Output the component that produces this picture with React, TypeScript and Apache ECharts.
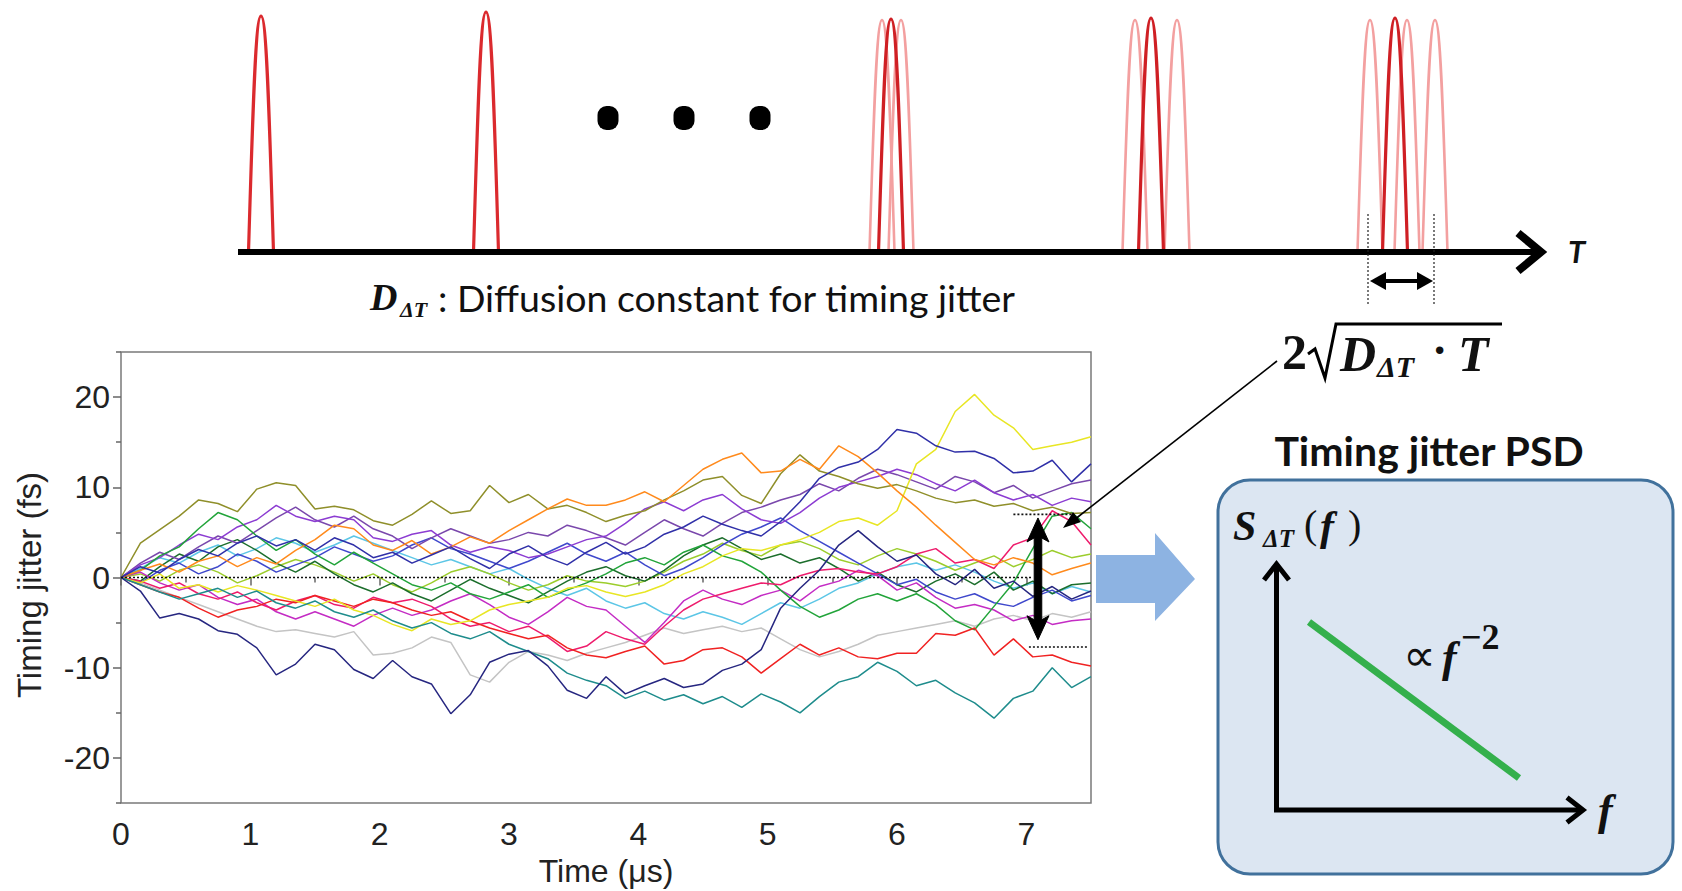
import React, { useEffect, useRef } from "react";
import * as echarts from "echarts";

// ---------- data ----------
const TIME_US = [0, 0.15, 0.3, 0.45, 0.6, 0.75, 0.9, 1.05, 1.2, 1.35, 1.5, 1.65, 1.8, 1.95, 2.1, 2.25, 2.4, 2.55, 2.7, 2.85, 3.0, 3.15, 3.3, 3.45, 3.6, 3.75, 3.9, 4.05, 4.2, 4.35, 4.5, 4.65, 4.8, 4.95, 5.1, 5.25, 5.4, 5.55, 5.7, 5.85, 6.0, 6.15, 6.3, 6.45, 6.6, 6.75, 6.9, 7.05, 7.2, 7.35, 7.5];

const X_MAJOR_TICKS = [0, 1, 2, 3, 4, 5, 6, 7];
const X_MINOR_TICKS = [0.5, 1.5, 2.5, 3.5, 4.5, 5.5, 6.5];
const Y_MAJOR_TICKS = [-20, -10, 0, 10, 20];
const Y_MINOR_TICKS = [-25, -15, -5, 5, 15, 25];

const OLIVE = [0, 3.8, 5.3, 6.8, 8.6, 8.2, 7.3, 9.8, 10.5, 10.2, 7.6, 7.9, 7.5, 6.3, 5.8, 7.0, 8.5, 7.1, 7.4, 10.2, 8.3, 9.2, 7.6, 8.0, 7.2, 6.2, 6.9, 7.4, 8.6, 9.6, 10.8, 11.2, 9.1, 8.2, 11.5, 13.6, 11.8, 11.2, 10.4, 9.9, 10.3, 9.6, 8.8, 8.3, 8.6, 7.9, 8.2, 7.4, 7.8, 7.1, 7.2];
const ORANGE = [0, 0.8, 1.5, 0.6, 1.8, 2.4, 1.2, 2.2, 1.5, 3.0, 4.2, 5.8, 5.4, 3.6, 3.0, 4.1, 2.6, 3.4, 4.5, 3.8, 5.2, 6.4, 7.6, 8.7, 8.0, 8.0, 8.6, 9.5, 8.4, 10.2, 12.0, 13.1, 13.8, 11.6, 11.8, 13.1, 12.0, 14.6, 13.4, 11.6, 9.6, 7.8, 5.8, 3.9, 2.0, 1.4, 2.2, 1.6, 0.3, 1.0, 1.6];
const NAVY = [0, -1.5, -4.5, -4.0, -4.6, -5.9, -6.3, -7.8, -10.8, -9.6, -7.4, -8.0, -10.2, -11.2, -9.2, -11.0, -11.8, -15.1, -13.0, -9.4, -8.5, -8.1, -9.8, -12.5, -13.4, -11.0, -12.9, -12.0, -11.2, -12.2, -11.8, -10.3, -9.6, -8.0, -3.4, -1.2, 0.8, 3.6, 5.2, 3.4, 1.8, 2.5, 0.4, -0.8, 0.9, -1.2, -0.4, -2.1, -1.0, -2.4, -1.5];
const DARK_BLUE = [0, 1.2, 0.5, 2.0, 3.1, 2.4, 3.8, 4.6, 3.5, 4.2, 3.0, 4.4, 3.6, 2.2, 2.8, 1.6, 2.5, 3.4, 2.1, 1.0, 2.6, 3.5, 2.2, 1.4, 2.8, 3.9, 2.6, 3.4, 4.8, 5.6, 6.8, 5.9, 5.2, 4.6, 6.2, 8.4, 11.0, 12.2, 12.8, 14.2, 16.4, 16.0, 14.6, 13.9, 14.0, 13.2, 11.6, 11.8, 13.0, 10.6, 12.6];
const YELLOW = [0, -0.6, 0.4, -1.2, -0.8, -1.6, -0.9, -1.4, -2.0, -2.6, -3.2, -2.4, -3.6, -4.2, -5.2, -5.9, -4.6, -5.2, -4.8, -3.6, -3.0, -2.6, -2.2, -1.2, -0.9, -1.6, -2.1, -1.6, -0.8, 0.4, 1.2, 2.4, 3.2, 3.0, 3.6, 4.2, 5.0, 6.2, 6.6, 5.8, 7.4, 12.6, 14.2, 18.4, 20.3, 18.0, 16.6, 14.2, 14.6, 15.0, 15.6];
const TEAL = [0, -0.8, -1.6, -2.4, -1.8, -1.2, -2.2, -1.5, -2.8, -3.4, -2.6, -3.8, -4.4, -3.6, -4.8, -5.6, -5.0, -6.2, -6.8, -6.0, -7.4, -8.2, -9.0, -10.6, -11.4, -12.0, -13.4, -12.6, -13.6, -13.0, -14.0, -13.2, -14.4, -12.9, -13.8, -15.0, -13.2, -11.6, -11.0, -9.4, -10.4, -12.0, -11.4, -12.8, -13.9, -15.6, -13.4, -12.6, -10.0, -12.2, -11.0];
const RED = [0, -0.8, -1.6, -2.2, -3.4, -4.4, -3.6, -3.2, -2.4, -2.8, -2.0, -2.6, -3.2, -2.4, -2.8, -3.6, -4.2, -3.8, -4.8, -5.6, -6.2, -6.8, -6.4, -7.8, -8.6, -8.9, -8.2, -7.6, -9.6, -9.2, -8.0, -7.8, -8.8, -10.6, -9.0, -7.4, -8.6, -7.8, -8.8, -9.0, -8.4, -8.4, -6.2, -6.4, -5.6, -8.6, -6.8, -8.8, -8.6, -9.4, -9.8];
const GRAY = [0, -0.6, -1.4, -2.2, -3.0, -3.8, -4.6, -5.4, -6.0, -5.8, -6.2, -6.6, -6.0, -8.6, -8.4, -7.8, -6.6, -7.2, -10.8, -11.6, -9.4, -8.2, -8.6, -9.2, -8.4, -7.8, -7.2, -6.4, -5.6, -6.2, -5.8, -5.4, -6.0, -5.6, -6.8, -8.0, -8.8, -8.2, -7.4, -6.4, -6.0, -5.6, -5.2, -4.8, -5.4, -4.6, -4.2, -4.8, -4.0, -4.4, -3.8];
const CRIMSON = [0, -0.4, -1.2, -0.6, -1.8, -2.4, -1.6, -2.8, -3.6, -2.6, -2.0, -3.0, -3.4, -2.2, -2.8, -2.4, -3.2, -4.6, -5.4, -5.0, -6.0, -5.4, -6.6, -8.2, -7.6, -6.0, -6.8, -7.4, -5.4, -3.6, -2.4, -1.8, -1.2, -0.6, -0.8, 0.2, 0.8, 1.0, 0.6, 0.4, 1.2, 2.6, 3.2, 1.6, 2.0, 1.0, 3.6, 4.4, 7.4, 6.2, 3.6];
const MAGENTA = [0, 0.6, -0.6, -1.4, -0.8, -2.2, -3.0, -2.4, -3.8, -4.6, -3.8, -4.6, -5.4, -4.2, -3.4, -4.2, -3.6, -2.6, -1.8, -3.0, -4.4, -5.2, -3.8, -2.2, -3.2, -3.6, -5.4, -7.2, -5.0, -2.6, -1.4, -2.4, -3.0, -2.0, -1.4, -2.6, -1.0, -0.4, 0.8, 0.2, -1.4, -0.6, -2.2, -3.4, -3.0, -3.6, -4.8, -4.2, -5.2, -4.8, -4.6];
const VIOLET = [0, 1.4, 2.2, 3.6, 4.8, 4.2, 5.6, 6.4, 8.0, 6.8, 6.2, 6.8, 6.4, 4.4, 4.0, 4.8, 5.2, 3.6, 2.8, 3.4, 3.0, 2.2, 2.6, 3.4, 4.2, 4.6, 6.0, 7.6, 8.4, 7.4, 8.6, 9.2, 7.6, 6.4, 6.0, 7.2, 8.8, 10.0, 10.6, 11.2, 12.0, 11.4, 10.4, 9.6, 10.8, 9.4, 8.6, 9.2, 8.0, 8.8, 8.4];
const GREEN = [0, 0.8, 2.4, 3.4, 5.4, 7.2, 6.4, 4.6, 3.0, 4.2, 2.6, 1.4, 2.8, 1.6, 0.4, -0.8, -1.4, -0.6, -1.8, -2.4, -1.6, -0.8, -2.2, -1.4, -0.6, 0.4, 1.6, 2.2, 1.4, 2.8, 3.6, 2.4, 1.8, 0.6, -1.4, -3.2, -4.4, -3.6, -2.4, -1.8, -2.6, -1.8, -3.0, -4.8, -5.8, -3.2, -0.6, 3.2, 6.8, 7.2, 5.4];
const DARK_GREEN = [0, -0.4, 1.2, 2.6, 1.8, 3.4, 4.2, 3.0, 1.6, 0.6, 1.8, 0.4, -0.8, -1.6, -0.6, -1.8, -2.6, -1.4, -0.2, -1.2, -2.0, -2.8, -1.6, -0.4, 0.6, 1.2, 0.2, -0.4, 0.8, 2.4, 3.6, 4.4, 3.2, 2.0, 2.6, 1.6, 2.2, 1.0, -0.4, 0.6, -0.8, -1.6, -0.4, 0.4, -0.8, 0.6, -1.4, -0.4, -1.8, -0.8, -0.6];
const CYAN = [0, 1.0, 2.2, 1.6, 2.8, 3.6, 2.4, 3.2, 4.4, 3.8, 2.8, 3.6, 4.6, 3.8, 3.0, 2.2, 1.4, 2.0, 1.2, 0.4, 1.0, -0.2, -1.2, -2.0, -1.2, -2.6, -3.4, -2.8, -4.0, -4.6, -3.8, -4.4, -5.2, -4.0, -2.8, -3.4, -2.4, -1.2, -0.6, 0.4, 1.2, 1.6, 0.8, 1.4, 0.6, -0.4, -1.2, -0.6, -1.8, -1.0, -1.6];
const LIME = [0, 0.4, -0.4, 0.8, 1.4, 0.6, -0.6, 0.2, 1.2, 2.0, 1.4, 0.6, -0.4, 0.4, -0.8, -1.6, -0.6, 0.6, 1.2, 0.4, -0.6, -1.4, -0.8, 0.2, -0.4, -0.6, -1.0, -0.4, 0.6, 1.8, 2.6, 3.8, 3.0, 2.4, 3.6, 4.0, 3.2, 2.0, 1.4, 2.4, 3.2, 2.6, 1.8, 0.8, 1.6, 2.4, 1.2, 2.0, 3.0, 2.2, 2.6];
const ROYAL_BLUE = [0, -0.6, 0.8, 1.6, 0.4, 1.2, 2.6, 1.8, 0.6, 1.4, 2.2, 3.4, 2.6, 1.8, 2.4, 3.6, 4.4, 3.2, 2.6, 1.8, 1.0, 1.8, 2.8, 3.8, 2.6, 1.8, 2.8, 1.4, 0.2, 1.0, 2.2, 3.6, 4.8, 5.6, 6.6, 5.2, 4.0, 2.8, 1.6, 0.4, -0.8, -0.2, -1.6, -2.4, -1.8, -2.8, -3.2, -2.2, -1.4, -2.6, -2.0];
const PLUM = [0, 1.6, 2.8, 2.0, 3.4, 4.6, 3.8, 5.2, 6.6, 7.8, 6.4, 5.6, 6.8, 5.4, 4.6, 3.2, 4.4, 5.4, 4.6, 3.8, 4.2, 5.0, 4.6, 5.8, 5.2, 4.4, 3.6, 5.0, 6.4, 5.4, 4.6, 6.0, 7.2, 7.8, 8.6, 9.2, 10.4, 9.6, 11.0, 12.0, 11.4, 10.6, 9.8, 11.2, 10.6, 9.4, 10.2, 8.8, 9.6, 10.4, 10.8];

// zero reference and spread markers (time µs, jitter fs)
const ZERO_LINE = [[0, 0], [7.05, 0]];
const SPREAD_TOP_LINE = [[6.9, 7.0], [7.35, 7.0]];
const SPREAD_BOTTOM_LINE = [[7.02, -7.7], [7.47, -7.7]];
const SPREAD_ARROW = { t: 7.09, top: 6.6, bottom: -6.9 };

const TRACES = [
  { name: "gray", color: "#c4c4c4", values: GRAY },
  { name: "cyan", color: "#5cc6e6", values: CYAN },
  { name: "lime", color: "#9ccd2c", values: LIME },
  { name: "darkGreen", color: "#1c6e2c", values: DARK_GREEN },
  { name: "royalBlue", color: "#3f48cc", values: ROYAL_BLUE },
  { name: "plum", color: "#7a48ac", values: PLUM },
  { name: "violet", color: "#8c3cd2", values: VIOLET },
  { name: "magenta", color: "#c42cc4", values: MAGENTA },
  { name: "green", color: "#22a43a", values: GREEN },
  { name: "crimson", color: "#ee1c6c", values: CRIMSON },
  { name: "red", color: "#f02222", values: RED },
  { name: "yellow", color: "#e8e624", values: YELLOW },
  { name: "olive", color: "#8f8f2a", values: OLIVE },
  { name: "orange", color: "#ff8a1c", values: ORANGE },
  { name: "teal", color: "#1e8c8c", values: TEAL },
  { name: "navy", color: "#262680", values: NAVY },
  { name: "darkBlue", color: "#3030a8", values: DARK_BLUE },
];

// ---------- pulse shape for the schematic ----------
const PulseShape = echarts.graphic.extendShape({
  shape: { cx: 0, base: 0, peak: 0, hw: 12 },
  buildPath(ctx: any, shape: any) {
    const { cx, base, peak, hw } = shape;
    const h = base - peak;
    ctx.moveTo(cx - hw, base);
    ctx.bezierCurveTo(cx - hw * 0.68, base - h * 0.55, cx - hw * 0.46, peak, cx, peak);
    ctx.bezierCurveTo(cx + hw * 0.46, peak, cx + hw * 0.68, base - h * 0.55, cx + hw, base);
  },
});
echarts.graphic.registerShape("pulse", PulseShape);

const SANS = '"Liberation Sans", Arial, sans-serif';
const SERIF = '"Liberation Serif", "DejaVu Serif", serif';
const CAL = 'Lato, "Open Sans", sans-serif';

function text(t: string, x: number, y: number, font: string, opts: any = {}) {
  const align = opts.align || "left";
  const va = opts.va || "middle";
  return {
    type: "text",
    x,
    y,
    z: 20,
    rotation: opts.rotation || 0,
    style: {
      text: t,
      font,
      fill: opts.fill || "#111",
      align,
      verticalAlign: va,
      textAlign: align,
      textVerticalAlign: va,
    },
  };
}

export default function App() {
  const ref = useRef<HTMLDivElement>(null);

  useEffect(() => {
    document.body.style.margin = "0";
    const chart = echarts.init(ref.current!, null, { renderer: "svg", width: 1682, height: 891 });

    const lineSeries: any[] = TRACES.map((tr) => ({
      name: tr.name,
      type: "line",
      xAxisIndex: 0,
      yAxisIndex: 0,
      showSymbol: false,
      symbol: "none",
      data: TIME_US.map((t, i) => [t, tr.values[i]]),
      lineStyle: { color: tr.color, width: 1.5 },
      itemStyle: { color: tr.color },
      z: 3,
    }));

    const dotted = (data: number[][]) => ({
      type: "line",
      showSymbol: false,
      symbol: "none",
      data,
      lineStyle: { color: "#111", width: 1.6, type: [2, 2] },
      z: 6,
    });

    const axisCommon = { type: "value", splitLine: { show: false }, axisLine: { show: false } };
    const tickStyle = { color: "#666", width: 1.5 };

    chart.setOption({
      animation: false,
      backgroundColor: "#ffffff",
      grid: {
        left: 121,
        top: 352,
        width: 970,
        height: 451,
        show: true,
        borderColor: "#7a7a7a",
        borderWidth: 1.5,
        backgroundColor: "transparent",
        containLabel: false,
      },
      xAxis: [
        {
          ...axisCommon,
          min: 0,
          max: 7.5,
          position: "bottom",
          offset: 0,
          axisTick: { show: true, customValues: X_MAJOR_TICKS, length: 8, lineStyle: tickStyle },
          axisLabel: { customValues: X_MAJOR_TICKS, fontSize: 32, fontFamily: SANS, color: "#222", margin: 15 },
        },
        {
          ...axisCommon,
          min: 0,
          max: 7.5,
          position: "bottom",
          offset: 0,
          axisTick: { show: true, customValues: X_MINOR_TICKS, length: 5, lineStyle: tickStyle },
          axisLabel: { show: false },
        },
      ],
      yAxis: [
        {
          ...axisCommon,
          min: -25,
          max: 25,
          position: "left",
          offset: 0,
          axisTick: { show: true, customValues: Y_MAJOR_TICKS, length: 8, lineStyle: tickStyle },
          axisLabel: { customValues: Y_MAJOR_TICKS, fontSize: 32, fontFamily: SANS, color: "#222", margin: 11 },
        },
        {
          ...axisCommon,
          min: -25,
          max: 25,
          position: "left",
          offset: 0,
          axisTick: { show: true, customValues: Y_MINOR_TICKS, length: 5, lineStyle: tickStyle },
          axisLabel: { show: false },
        },
      ],
      series: [
        ...lineSeries,
        dotted(ZERO_LINE),
        dotted(SPREAD_TOP_LINE),
        dotted(SPREAD_BOTTOM_LINE),
      ],
    });

    const toPx = (t: number, v: number) => chart.convertToPixel({ seriesIndex: 0 }, [t, v]) as number[];

    // double-headed spread arrow, anchored to data coordinates
    const aTop = toPx(SPREAD_ARROW.t, SPREAD_ARROW.top);
    const aBot = toPx(SPREAD_ARROW.t, SPREAD_ARROW.bottom);
    const ax = aTop[0];
    const yT = aTop[1];
    const yB = aBot[1];
    const hw = 11, sw = 3.8, hl = 24;
    const spreadArrow = {
      type: "polygon",
      z: 30,
      shape: {
        points: [
          [ax, yT], [ax + hw, yT + hl], [ax + sw, yT + hl - 4], [ax + sw, yB - hl + 4], [ax + hw, yB - hl],
          [ax, yB], [ax - hw, yB - hl], [ax - sw, yB - hl + 4], [ax - sw, yT + hl - 4], [ax - hw, yT + hl],
        ],
      },
      style: { fill: "#000", stroke: "#000", lineWidth: 1, lineJoin: "round" },
    };

    // ----- top pulse-train schematic -----
    const BASE_Y = 252;
    const pulses: any[] = [];
    const addPulse = (cx: number, peak: number, tone: "single" | "dark" | "light") => {
      const stroke = tone === "light" ? "#f3a0a0" : tone === "dark" ? "#cf1f24" : "#db2a2e";
      const lw = tone === "light" ? 2.6 : 3.2;
      pulses.push({
        type: "pulse",
        z: tone === "light" ? 11 : 12,
        shape: { cx, base: BASE_Y, peak, hw: 12.5 },
        style: { stroke, fill: "none", lineWidth: lw },
      });
    };
    addPulse(261, 16, "single");
    addPulse(486, 12, "single");
    [882, 901].forEach((x) => addPulse(x, 20, "light"));
    addPulse(891, 19, "dark");
    [1135, 1177].forEach((x) => addPulse(x, 20, "light"));
    addPulse(1151, 18, "dark");
    [1370, 1407, 1435].forEach((x) => addPulse(x, 20, "light"));
    addPulse(1395, 18, "dark");

    const dots = [608, 684, 760].map((x) => ({
      type: "rect",
      z: 12,
      shape: { x: x - 10.5, y: 106, width: 21, height: 24, r: 9 },
      style: { fill: "#000" },
    }));

    const graphics: any[] = [
      ...pulses,
      ...dots,
      // time axis
      { type: "line", z: 13, shape: { x1: 238, y1: BASE_Y, x2: 1538, y2: BASE_Y }, style: { stroke: "#000", lineWidth: 6 } },
      {
        type: "polyline", z: 13,
        shape: { points: [[1518, 233], [1541, BASE_Y], [1518, 271]] },
        style: { stroke: "#000", fill: "none", lineWidth: 8, lineJoin: "miter" },
      },
      text("T", 1568, 251, `italic bold 31px ${CAL}`),
      // dotted guides + double arrow for spread
      { type: "line", z: 13, shape: { x1: 1368, y1: 214, x2: 1368, y2: 304 }, style: { stroke: "#222", lineWidth: 1.2, lineDash: [2, 2] } },
      { type: "line", z: 13, shape: { x1: 1434, y1: 214, x2: 1434, y2: 304 }, style: { stroke: "#222", lineWidth: 1.2, lineDash: [2, 2] } },
      { type: "line", z: 13, shape: { x1: 1384, y1: 281, x2: 1420, y2: 281 }, style: { stroke: "#000", lineWidth: 4 } },
      { type: "polygon", z: 13, shape: { points: [[1370, 281], [1386, 272], [1386, 290]] }, style: { fill: "#000" } },
      { type: "polygon", z: 13, shape: { points: [[1433, 281], [1417, 272], [1417, 290]] }, style: { fill: "#000" } },
      // diffusion constant caption
      text("D", 370, 297, `italic bold 38px ${SERIF}`),
      text("ΔT", 400, 309, `italic bold 22px ${SERIF}`),
      text(": Diffusion constant for timing jitter", 438, 297, `37.5px ${CAL}`),
      // 2 sqrt(D T)
      text("2", 1282, 352, `bold 50px ${SERIF}`),
      {
        type: "polyline", z: 20,
        shape: { points: [[1308, 354], [1315, 349], [1325, 378], [1336, 324], [1502, 324]] },
        style: { stroke: "#000", fill: "none", lineWidth: 3, lineJoin: "miter" },
      },
      text("D", 1340, 354, `italic bold 50px ${SERIF}`),
      text("ΔT", 1377, 366, `italic bold 30px ${SERIF}`),
      text("·", 1432, 350, `bold 46px ${SERIF}`),
      text("T", 1458, 354, `italic bold 50px ${SERIF}`),
      // connector line with arrowhead into the plot
      { type: "line", z: 25, shape: { x1: 1277, y1: 361, x2: 1074, y2: 520 }, style: { stroke: "#000", lineWidth: 1.6 } },
      { type: "polygon", z: 25, shape: { points: [[1063, 528], [1081, 522], [1073, 512]] }, style: { fill: "#000" } },
      // blue block arrow
      {
        type: "polygon", z: 10,
        shape: { points: [[1096, 555], [1155, 555], [1155, 533], [1195, 579], [1155, 621], [1155, 603], [1096, 603]] },
        style: { fill: "#8db3e2" },
      },
      // PSD panel
      text("Timing jitter PSD", 1429, 450, `bold 41px ${CAL}`, { align: "center" }),
      {
        type: "rect", z: 10,
        shape: { x: 1218, y: 480, width: 455, height: 394, r: 32 },
        style: { fill: "#dce6f2", stroke: "#41719c", lineWidth: 3 },
      },
      text("S", 1233, 526, `italic bold 42px ${SERIF}`),
      text("ΔT", 1263, 538, `italic bold 25px ${SERIF}`),
      text("(", 1304, 524, `40px ${SERIF}`),
      text("f", 1320, 526, `italic bold 42px ${SERIF}`),
      text(")", 1348, 524, `40px ${SERIF}`),
      { type: "line", z: 20, shape: { x1: 1276.5, y1: 812, x2: 1276.5, y2: 566 }, style: { stroke: "#000", lineWidth: 5 } },
      {
        type: "polyline", z: 20,
        shape: { points: [[1264, 580], [1276.5, 564], [1289, 580]] },
        style: { stroke: "#000", fill: "none", lineWidth: 5, lineJoin: "miter" },
      },
      { type: "line", z: 20, shape: { x1: 1274, y1: 810, x2: 1580, y2: 810 }, style: { stroke: "#000", lineWidth: 5 } },
      {
        type: "polyline", z: 20,
        shape: { points: [[1567, 797.5], [1583, 810], [1567, 822.5]] },
        style: { stroke: "#000", fill: "none", lineWidth: 5, lineJoin: "miter" },
      },
      text("f", 1598, 810, `italic bold 44px ${SERIF}`),
      { type: "line", z: 20, shape: { x1: 1309, y1: 622, x2: 1519, y2: 778 }, style: { stroke: "#34b04c", lineWidth: 7 } },
      text("∝", 1403, 655, `46px "DejaVu Sans", sans-serif`),
      text("f", 1442, 657, `italic bold 44px ${SERIF}`),
      text("−2", 1461, 637, `bold 36px ${SERIF}`),
      // plot axis titles
      text("Timing jitter (fs)", 29, 585, `33px ${SANS}`, { align: "center", rotation: Math.PI / 2, fill: "#222" }),
      text("Time (μs)", 606, 871, `32px ${SANS}`, { align: "center", fill: "#222" }),
      spreadArrow,
    ];

    chart.setOption({ graphic: { elements: graphics } });

    return () => chart.dispose();
  }, []);

  return <div ref={ref} style={{ position: "absolute", left: 0, top: 0, width: 1682, height: 891 }} />;
}
